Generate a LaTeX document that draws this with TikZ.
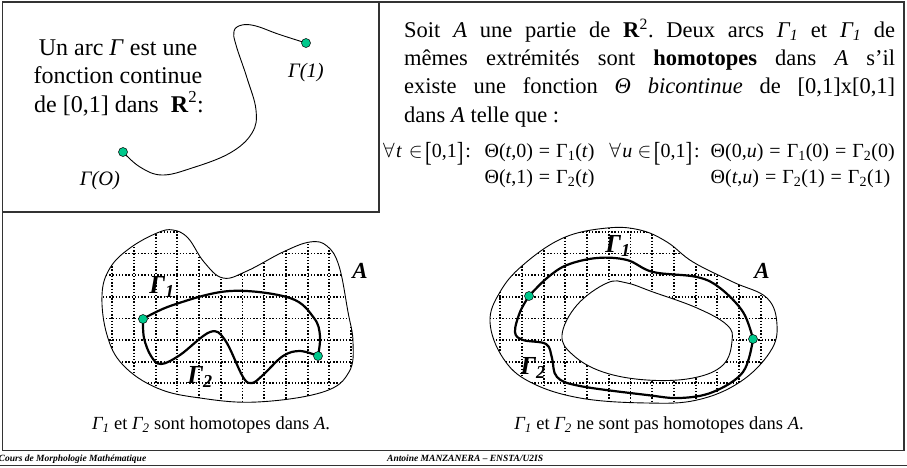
\documentclass[tikz,border=0pt]{standalone}
\usepackage{fontspec}
\setmainfont{Liberation Serif}
\usepackage{graphicx}
\frenchspacing
\definecolor{dotgreen}{RGB}{0,200,140}
\newcommand\bigbr[1]{\raisebox{-0.2em}{\scalebox{1}[1.38]{#1}}}
\newcommand\eqs{\hspace{0.3em}=\hspace{0.3em}}
\newcommand\forallpart[1]{\makebox[101pt][s]{$\forall$\kern1.5pt\textit{#1}\hspace{0pt plus 1fil}$\in$\kern2.5pt\bigbr{[}0,1\bigbr{]}\kern2pt:\hspace{0pt plus 2fil}}}
\tikzset{
  frameline/.style={draw=black!80, line width=1.4pt},
  thincurve/.style={draw=black, line width=0.9pt},
  thickcurve/.style={draw=black, line width=2.2pt},
  blobline/.style={draw=black, line width=0.9pt},
  griddot/.style={draw=black, line width=1.9pt, dash pattern=on 1.4pt off 1.8pt},
  dotnode/.style={circle, fill=dotgreen, draw=black, line width=0.5pt, inner sep=0pt, minimum size=9pt},
  bigtxt/.style={inner sep=0pt, font=\fontsize{22.5}{28.5}\selectfont\frenchspacing},
  deftxt/.style={inner sep=0pt, font=\fontsize{24}{28.5}\selectfont},
  formula/.style={inner sep=0pt, font=\fontsize{20}{24}\selectfont},
  arclabel/.style={inner sep=0pt, font=\fontsize{20.5}{24}\selectfont\itshape},
  glabel/.style={inner sep=0pt, font=\fontsize{26}{26}\selectfont\bfseries\itshape},
  alabel/.style={inner sep=0pt, font=\fontsize{23}{23}\selectfont\bfseries\itshape},
  caption/.style={inner sep=0pt, font=\fontsize{18.5}{22}\selectfont},
  footer/.style={inner sep=0pt, font=\fontsize{9.5}{11}\selectfont\bfseries\itshape},
}
\begin{document}
\begin{tikzpicture}[x=1pt,y=-1pt]
\useasboundingbox (0,0) rectangle (907,467);
% frames
\draw[frameline] (2.5,2) -- (904,2) -- (904,450.5) -- (2.5,450.5) -- cycle;
\draw[frameline] (2.5,2) rectangle (379,212);
\draw[frameline] (0,465.5) -- (907,465.5);

% ---------- top-left box ----------
\node[deftxt, anchor=base] (def1) at (118,55) {Un arc \textit{Γ} est une};
\node[deftxt, anchor=base] (def2) at (118,83.5) {fonction continue};
\node[deftxt, anchor=base] (def3) at (119,112) {de [0,1] dans \ \textbf{R}\textsuperscript{2}:};
\coordinate (g0) at (123,152);
\coordinate (g1) at (306,43);
\draw[thincurve] plot[smooth, tension=0.65] coordinates {(g0) (140,167) (162,175) (192,168) (230,153) (252,133) (256,110) (247,78) (236,45) (234,31) (242,25) (256,26) (278,34) (g1)};
\node[dotnode] (g0dot) at (g0) {};
\node[dotnode] (g1dot) at (g1) {};
\node[arclabel] (g1lab) at (306,73) {Γ(1)};
\node[arclabel] (g0lab) at (100,181) {Γ(O)};

% ---------- top-right text ----------
\node[bigtxt, anchor=base west] (l1) at (404,37.5) {\makebox[491pt][s]{Soit \textit{A} une partie de \textbf{R}\textsuperscript{2}. Deux arcs \textit{Γ\textsubscript{1}} et \textit{Γ\textsubscript{1}} de}};
\node[bigtxt, anchor=base west] (l2) at (404,65.7) {\makebox[491pt][s]{mêmes extrémités sont \textbf{homotopes} dans \textit{A} s’il}};
\node[bigtxt, anchor=base west] (l3) at (404,93.9) {\makebox[491pt][s]{existe une fonction \textit{Θ bicontinue} de [0,1]x[0,1]}};
\node[bigtxt, anchor=base west] (l4) at (404,122.5) {dans \textit{A} telle que :};

% formulas
\node[formula, anchor=base west] (fa1) at (383,157) {\forallpart{t}};
\node[formula, anchor=base west] (fb1) at (fa1.base east) {Θ(\textit{t},0)\eqs Γ\textsubscript{1}(\textit{t})};
\node[formula, anchor=base west] (fb2) at (fb1.west |- 0,183) {Θ(\textit{t},1)\eqs Γ\textsubscript{2}(\textit{t})};
\node[formula, anchor=base east] (fd1) at (895,157) {Θ(0,\textit{u})\eqs Γ\textsubscript{1}(0)\eqs Γ\textsubscript{2}(0)};
\node[formula, anchor=base east] (fc1) at (fd1.base west) {\forallpart{u}};
\node[formula, anchor=base west] (fd2) at (fd1.west |- 0,183) {Θ(\textit{t},\textit{u})\eqs Γ\textsubscript{2}(1)\eqs Γ\textsubscript{2}(1)};

% ---------- left blob ----------
\begin{scope}
\clip plot[smooth cycle, tension=0.65] coordinates {(102,295) (110,268) (130,248) (157,233) (173,230) (188,238) (204,262) (223,278) (247,271) (283,252) (310,242) (327,246) (339,266) (348,312) (353,342) (349,372) (323,392) (257,402) (200,398) (157,388) (123,365) (107,335)};
\foreach \k in {-1,...,12} \draw[griddot] ({112.3+21.7*\k},215) -- ++(0,200);
\foreach \k in {-2,...,7} \draw[griddot] (90,{253.5+21.65*\k}) -- ++(280,0);
\end{scope}
\draw[blobline] plot[smooth cycle, tension=0.65] coordinates {(102,295) (110,268) (130,248) (157,233) (173,230) (188,238) (204,262) (223,278) (247,271) (283,252) (310,242) (327,246) (339,266) (348,312) (353,342) (349,372) (323,392) (257,402) (200,398) (157,388) (123,365) (107,335)};
\coordinate (p0) at (143,319);
\coordinate (p1) at (318,356);
\draw[thickcurve] plot[smooth, tension=0.6] coordinates {(p0) (173,305) (230,291) (290,298) (314,318) (320,336) (p1)};
\draw[thickcurve] plot[smooth, tension=0.6] coordinates {(p0) (144,338) (151,356) (161,364) (180,355) (210,332) (225,340) (243,377) (252,383) (263,375) (283,356) (300,351) (p1)};
\node[dotnode] (p0dot) at (p0) {};
\node[dotnode] (p1dot) at (p1) {};
\node[glabel] (lg1) at (162,287) {Γ\textsubscript{1}};
\node[glabel] (lg2) at (200,377) {Γ\textsubscript{2}};
\node[alabel] (la) at (360,271) {A};
\node[caption] (capl) at (211,425) {\textit{Γ\textsubscript{1}} et \textit{Γ\textsubscript{2}} sont homotopes dans \textit{A}.};

% ---------- right blob ----------
\begin{scope}
\clip plot[smooth cycle, tension=0.65] coordinates {(490,322) (500,292) (523,265) (563,238) (607,228) (640,230) (667,242) (693,262) (733,282) (767,298) (777,325) (770,352) (740,382) (697,400) (647,403) (580,398) (530,382) (503,358)};
\foreach \k in {-2,...,12} \draw[griddot] ({522+21.7*\k},215) -- ++(0,200);
\foreach \k in {-2,...,7} \draw[griddot] (480,{253.5+21.65*\k}) -- ++(310,0);
\end{scope}
\draw[blobline] plot[smooth cycle, tension=0.65] coordinates {(490,322) (500,292) (523,265) (563,238) (607,228) (640,230) (667,242) (693,262) (733,282) (767,298) (777,325) (770,352) (740,382) (697,400) (647,403) (580,398) (530,382) (503,358)};
\filldraw[blobline, fill=white] plot[smooth cycle, tension=0.65] coordinates {(562,335) (577,305) (607,283) (627,283) (653,292) (697,308) (727,325) (732,341) (723,365) (693,378) (647,380) (603,372) (573,355)};
\coordinate (q0) at (529,296);
\coordinate (q1) at (753,339);
\draw[thickcurve] plot[smooth, tension=0.6] coordinates {(q0) (547,278) (567,265) (597,258) (627,260) (653,272) (697,277) (720,288) (743,312) (q1)};
\draw[thickcurve] plot[smooth, tension=0.6] coordinates {(q0) (520,312) (515,332) (523,340) (546,344) (552,358) (557,377) (580,386) (647,395) (680,398) (713,392) (743,372) (q1)};
\node[dotnode] (q0dot) at (q0) {};
\node[dotnode] (q1dot) at (q1) {};
\node[glabel] (rg1) at (618,246) {Γ\textsubscript{1}};
\node[glabel] (rg2) at (533,368) {Γ\textsubscript{2}};
\node[alabel] (ra) at (762,271) {A};
\node[caption] (capr) at (659,425) {\textit{Γ\textsubscript{1}} et \textit{Γ\textsubscript{2}} ne sont pas homotopes dans \textit{A}.};

% ---------- footer ----------
\node[footer, anchor=base west] (foot1) at (-1.5,461.5) {Cours de Morphologie Mathématique};
\node[footer, anchor=base west] (foot2) at (387,461.5) {Antoine MANZANERA – ENSTA/U2IS};
\end{tikzpicture}
\end{document}
